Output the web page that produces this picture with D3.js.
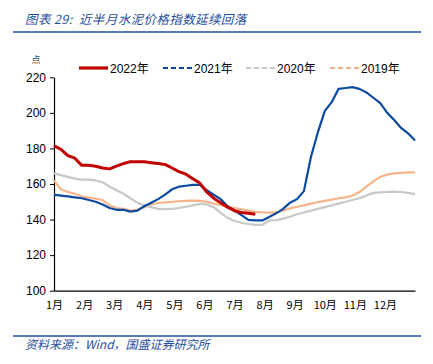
<!DOCTYPE html>
<html>
<head>
<meta charset="utf-8">
<script src="https://cdn.jsdelivr.net/npm/d3@7"></script>
<style>
  body { margin: 0; background: #fff; }
  svg { display: block; }
  text { font-family: "Liberation Sans", Arial, "Noto Sans CJK SC", sans-serif; }
</style>
</head>
<body>
<div id="chart"></div>
<script>
// meses del eje x
const months = ["1月","2月","3月","4月","5月","6月","7月","8月","9月","10月","11月","12月"];
const yTicks = [100, 120, 140, 160, 180, 200, 220];

// valores semanales (semana 0 = inicio de enero)
const v2022 = [181.5,179.5,176,174.5,170.5,170.5,170,169,168.5,170,171.5,172.5,172.5,172.5,172,171.5,
  171,169,167,165.5,163,160.5,155.5,152,149.5,147,145,144,143.5,143];
const v2021 = [154,153.5,153,152.5,152,151,150,148.5,146.5,145.5,145.5,144.5,145,147.5,149.5,151.5,
  154,157,158.5,159,159.5,159.5,156.5,154,151.5,147.5,145,142.5,139.8,139.5,139.5,141.5,143.5,146,
  149.5,151.5,156,175,189,201,206,213.5,214,214.5,213.5,211.5,208.5,205.5,200,196,191.5,188.5,184.5];
const v2020 = [166,165,164,163,162.5,162.5,162,161,158.5,156.5,154.5,152,149.5,148,147,146,145.8,146,
  146.5,147.2,148,148.8,148.5,147,143.8,141,139.2,138.2,137.5,137,137,139.5,139.7,140.5,141.6,143,144,
  145,146,147,148,149,150,151,152,153.5,155,155.3,155.5,155.7,155.5,155,154.3];
const v2019 = [162,157,155.5,154.5,153,152.3,151.8,151,148,146.5,146,145,145.5,147,148.5,149.3,149.7,
  150,150.3,150.5,150.6,150.5,150,149,148.2,147.3,146.5,145.8,145,144.3,144,143.9,144,145,146.3,147.2,
  148,149,149.8,150.5,151.2,152,152.5,153.5,155.5,158.5,161.5,164,165.3,166,166.3,166.5,166.5];

const seriesNames = ["2022年","2021年","2020年","2019年"];
const colores = {"2022年": "#c00000", "2021年": "#0b4a9f", "2020年": "#c8c8c8", "2019年": "#f6b48b"};

const W = 433, H = 364;
const MARGIN = {top: 77.3, bottom: 73.3, left: 54, right: 18};
const BLUE = "#1f4e9c";

const svg = d3.select("#chart").append("svg").attr("width", W).attr("height", H);

// titulo
svg.append("text").text("图表 29:  近半月水泥价格指数延续回落")
  .attr("x", 25).attr("y", 24)
  .attr("font-size", 12.5).attr("font-style", "italic").attr("fill", BLUE)
  .attr("letter-spacing", 0.4)
  .style("white-space", "pre")
  .style("font-family", "'Noto Sans CJK SC', sans-serif");
svg.append("line").attr("x1", 13).attr("x2", 421).attr("y1", 32).attr("y2", 32)
  .attr("stroke", BLUE).attr("stroke-width", 1.6);

// fuente
svg.append("line").attr("x1", 13).attr("x2", 421).attr("y1", 336).attr("y2", 336)
  .attr("stroke", BLUE).attr("stroke-width", 1.4);
svg.append("text").text("资料来源：Wind，国盛证券研究所")
  .attr("x", 25).attr("y", 349)
  .attr("font-size", 12).attr("font-style", "italic").attr("fill", BLUE)
  .style("font-family", "'Noto Sans CJK SC', sans-serif");

const x = d3.scaleLinear().domain([0, 12]).range([MARGIN.left, W - MARGIN.right]);
const y = d3.scaleLinear().domain([100, 220]).range([H - MARGIN.bottom, MARGIN.top]);
const weekToMonth = w => w * 12 / 52;

// eje y
const ejeY = svg.append("g")
  .attr("transform", `translate(${MARGIN.left},0)`)
  .call(d3.axisLeft(y).tickValues(yTicks).tickSize(4).tickSizeOuter(0).tickPadding(4));
ejeY.select(".domain").attr("stroke", "#000").attr("stroke-width", 1.2);
ejeY.selectAll("text").attr("font-size", 12).attr("fill", "#000")
  .style("font-family", "'Liberation Sans', Arial, sans-serif");

svg.append("text").text("点").attr("x", 36).attr("y", 63)
  .attr("text-anchor", "middle").attr("font-size", 9).attr("fill", "#444")
  .style("font-family", "'Noto Sans CJK SC', sans-serif");

// eje x
const ejeX = svg.append("g")
  .attr("transform", `translate(0,${H - MARGIN.bottom})`)
  .call(d3.axisBottom(x).tickValues(d3.range(0, 12)).tickFormat(i => months[i])
    .tickSize(0).tickSizeOuter(0).tickPadding(11));
ejeX.select(".domain").attr("stroke", "#000").attr("stroke-width", 1.2);
ejeX.selectAll("text").attr("font-size", 11).attr("fill", "#000")
  .style("font-family", "'Noto Sans CJK SC', sans-serif");

// lineas
const linea = d3.line().x((d, i) => x(weekToMonth(i))).y(d => y(d));
const datos = {"2022年": v2022, "2021年": v2021, "2020年": v2020, "2019年": v2019};
const orden = ["2019年", "2020年", "2021年", "2022年"];
const ancho = {"2022年": 3, "2021年": 2.2, "2020年": 2.2, "2019年": 2.2};

svg.append("g").selectAll("path").data(orden).join("path")
  .attr("d", k => linea(datos[k]))
  .attr("fill", "none")
  .attr("stroke", k => colores[k])
  .attr("stroke-width", k => ancho[k])
  .attr("stroke-linejoin", "round");

// leyenda
const legX = [79, 163, 246, 330];
const leyenda = svg.append("g").selectAll("g").data(seriesNames).join("g")
  .attr("transform", (d, i) => `translate(${legX[i]},68)`);
leyenda.append("line")
  .attr("x1", 0).attr("x2", 29).attr("y1", 0).attr("y2", 0)
  .attr("stroke", d => colores[d])
  .attr("stroke-width", (d, i) => i === 0 ? 3.2 : 2.2)
  .attr("stroke-dasharray", (d, i) => i === 0 ? null : "5,3");
leyenda.append("text").text(d => d)
  .attr("x", 31).attr("y", 4.5)
  .attr("font-size", 12).attr("fill", "#000");
</script>
</body>
</html>
